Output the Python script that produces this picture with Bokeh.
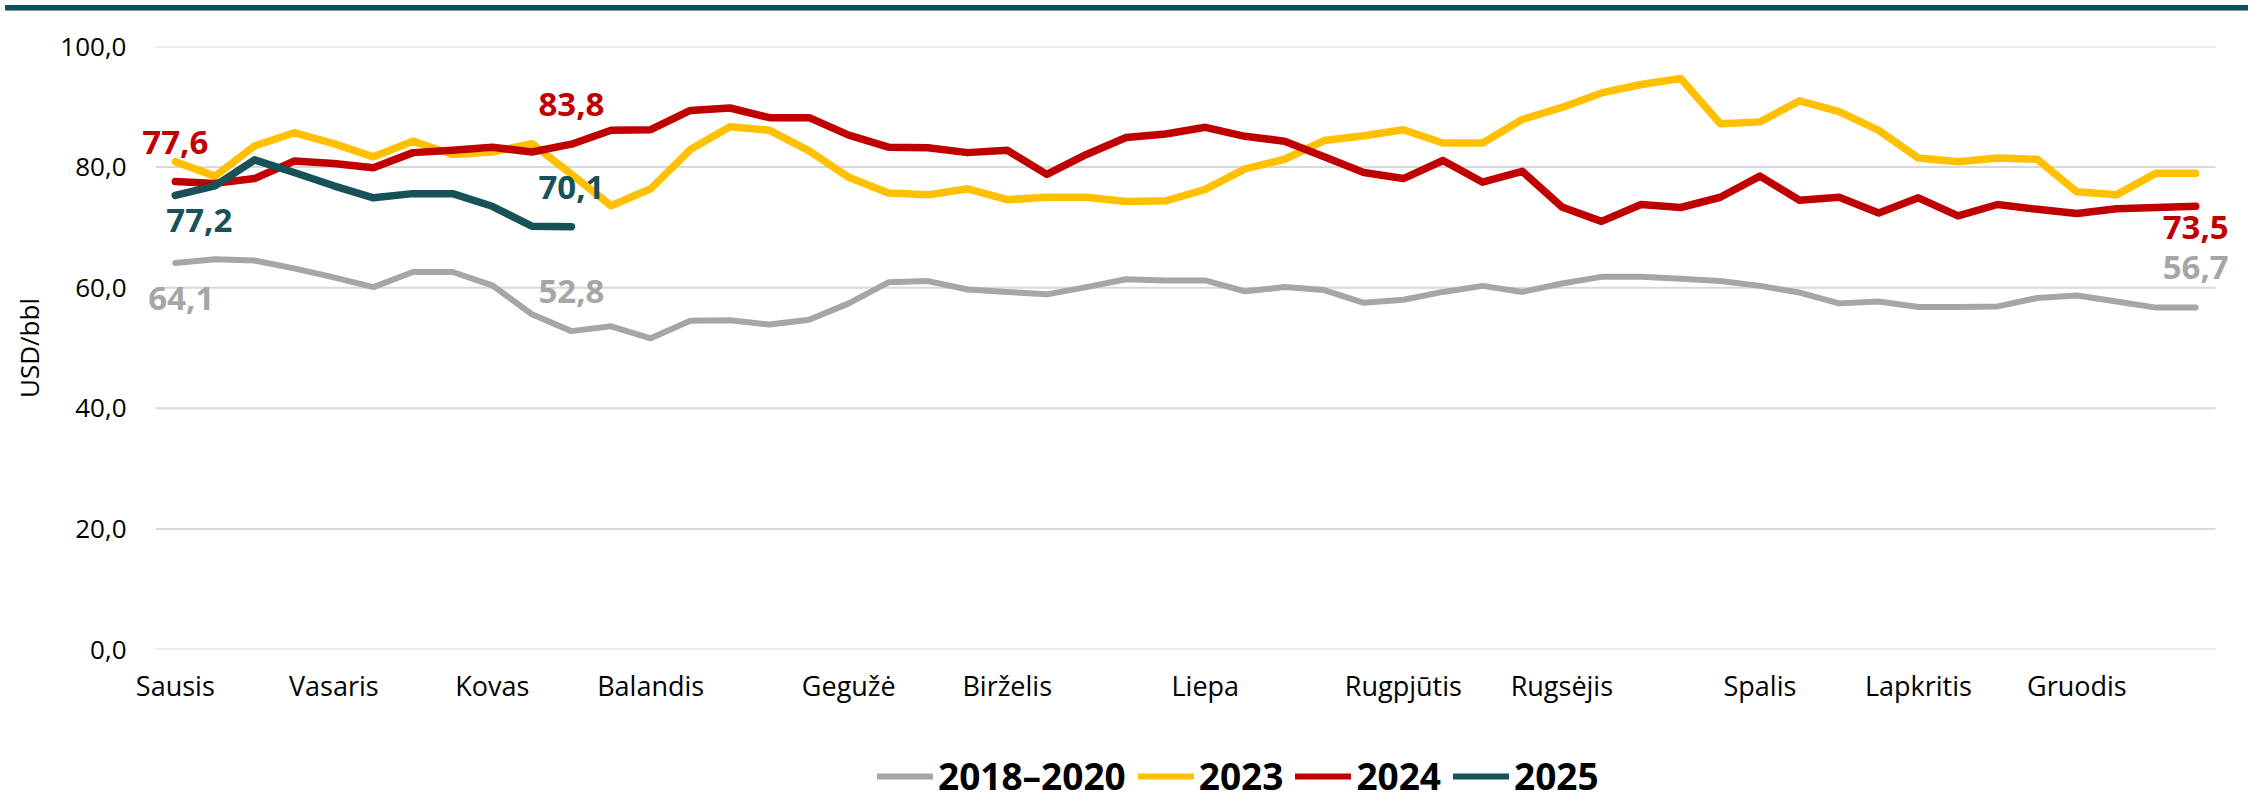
from bokeh.plotting import figure
from bokeh.models import (Range1d, FixedTicker, Legend, LegendItem, Label, Div)
from bokeh.layouts import column
from bokeh.embed import file_html
from bokeh.resources import INLINE

# ---------------- data ----------------
weeks = list(range(52))
month_ticks = [0, 4, 8, 12, 17, 21, 26, 31, 35, 40, 44, 48]
month_labels = ["Sausis", "Vasaris", "Kovas", "Balandis", "Gegužė", "Birželis",
                "Liepa", "Rugpjūtis", "Rugsėjis", "Spalis", "Lapkritis", "Gruodis"]
y_ticks = [0, 20, 40, 60, 80, 100]

s_2018_2020 = [64.1, 64.7, 64.5, 63.2, 61.7, 60.1, 62.6, 62.6, 60.4, 55.6,
               52.8, 53.6, 51.6, 54.5, 54.6, 53.9, 54.7, 57.4, 60.9, 61.1,
               59.7, 59.3, 58.9, 60.1, 61.4, 61.2, 61.2, 59.4, 60.1, 59.6,
               57.5, 58.0, 59.3, 60.3, 59.3, 60.7, 61.8, 61.8, 61.5, 61.1,
               60.3, 59.2, 57.4, 57.7, 56.8, 56.8, 56.9, 58.3, 58.7, 57.7,
               56.7, 56.7]
s_2023 = [80.9, 78.5, 83.5, 85.7, 83.9, 81.7, 84.3, 82.1, 82.5, 83.9,
          78.8, 73.6, 76.4, 82.9, 86.7, 86.1, 82.7, 78.3, 75.7, 75.4,
          76.4, 74.6, 75.0, 75.0, 74.3, 74.4, 76.3, 79.7, 81.3, 84.4,
          85.2, 86.2, 84.0, 84.0, 87.9, 89.9, 92.3, 93.7, 94.7, 87.2,
          87.5, 91.0, 89.2, 86.1, 81.5, 80.9, 81.5, 81.3, 75.9, 75.4,
          79.0, 79.0]
s_2024 = [77.6, 77.3, 78.1, 81.0, 80.6, 79.9, 82.4, 82.8, 83.3, 82.5,
          83.8, 86.1, 86.2, 89.4, 89.8, 88.2, 88.2, 85.3, 83.3, 83.2,
          82.4, 82.8, 78.8, 82.1, 84.9, 85.5, 86.6, 85.1, 84.3, 81.7,
          79.1, 78.1, 81.1, 77.5, 79.3, 73.4, 71.0, 73.8, 73.3, 75.0,
          78.5, 74.5, 75.0, 72.4, 74.9, 71.9, 73.8, 73.0, 72.3, 73.1,
          73.3, 73.5]
s_2025 = [75.3, 76.9, 81.2, 79.1, 76.9, 74.9, 75.6, 75.6, 73.5, 70.2, 70.1]

series_names = ["2018–2020", "2023", "2024", "2025"]
series_values = [s_2018_2020, s_2023, s_2024, s_2025]

# data labels: which series, which week, text
label_series = ["2024", "2025", "2018–2020", "2024", "2025", "2018–2020", "2024", "2018–2020"]
label_week = [0, 0, 0, 10, 10, 10, 51, 51]
label_text = ["77,6", "77,2", "64,1", "83,8", "70,1", "52,8", "73,5", "56,7"]

# ---------------- styles ----------------
colors = {"2018–2020": "#a6a6a6", "2023": "#ffc000", "2024": "#c00000", "2025": "#17525a"}
widths = {"2018–2020": 6, "2023": 7.5, "2024": 7.5, "2025": 7.5}
label_offsets = [(0, 39), (24, -25), (6, -36), (0, 40), (0, 39), (0, 40), (0, -21), (0, 40)]
FONT = "Open Sans"

W = 2243
BAR_H = 6
H_MAIN = 706
H_LEG = 790 - BAR_H - H_MAIN

# category band: half a week on each side of the first / last week
x_lo, x_hi = weeks[0] - 0.5, weeks[-1] + 0.5
px_per_week = 2060 / (x_hi - x_lo)
pad_left_px, pad_right_px = 23, 22   # extra room inside frame for edge data labels

p = figure(width=W, height=H_MAIN, output_backend="svg", toolbar_location=None,
           x_range=Range1d(x_lo - pad_left_px / px_per_week, x_hi + pad_right_px / px_per_week),
           y_range=Range1d(0, 100),
           min_border_left=132, min_border_right=6,
           min_border_top=30, min_border_bottom=73)
p.outline_line_color = None
p.background_fill_color = "white"
p.border_fill_color = "white"

# axes
p.xaxis.ticker = FixedTicker(ticks=month_ticks)
p.xaxis.major_label_overrides = {t: l for t, l in zip(month_ticks, month_labels)}
p.yaxis.ticker = FixedTicker(ticks=y_ticks)
p.yaxis.major_label_overrides = {t: f"{t:.1f}".replace(".", ",") for t in y_ticks}
for ax in (p.xaxis, p.yaxis):
    ax.axis_line_color = None
    ax.major_tick_line_color = None
    ax.minor_tick_line_color = None
    ax.major_label_text_font = FONT
    ax.major_label_text_color = "#000000"
p.xaxis.major_label_text_font_size = "27px"
p.yaxis.major_label_text_font_size = "26px"
p.xaxis.major_label_standoff = 11
p.yaxis.major_label_standoff = 0
p.yaxis.axis_label = "USD/bbl"
p.yaxis.axis_label_text_font = FONT
p.yaxis.axis_label_text_font_size = "26px"
p.yaxis.axis_label_text_font_style = "normal"
p.yaxis.axis_label_text_color = "#000000"
p.yaxis.axis_label_standoff = 10

p.xgrid.grid_line_color = None
p.ygrid.grid_line_color = None
# horizontal gridlines spanning the category band only
p.segment(x0=[x_lo] * len(y_ticks), x1=[x_hi] * len(y_ticks), y0=y_ticks, y1=y_ticks,
          line_color="#d9d9d9", line_width=2)

# lines
for name, vals in zip(series_names, series_values):
    p.line(weeks[:len(vals)], vals, line_color=colors[name], line_width=widths[name],
           line_join="round", line_cap="round")

# data labels
for ser, wk, txt, (dx, dy) in zip(label_series, label_week, label_text, label_offsets):
    vals = series_values[series_names.index(ser)]
    p.add_layout(Label(x=weeks[wk], y=vals[wk], text=txt, x_offset=dx, y_offset=dy,
                       text_align="center", text_baseline="middle",
                       text_font=FONT, text_font_size="33px", text_font_style="bold",
                       text_color=colors[ser]))

# legend strip (separate small figure under the chart, no axes)
pl = figure(width=W, height=H_LEG, output_backend="svg", toolbar_location=None,
            x_axis_type=None, y_axis_type=None,
            x_range=Range1d(0, 1), y_range=Range1d(0, 1),
            min_border_left=0, min_border_right=0, min_border_top=0, min_border_bottom=0)
pl.grid.visible = False
pl.outline_line_color = None
pl.border_fill_color = "white"
leg_renderers = []
for name, vals in zip(series_names, series_values):
    # same series, drawn outside this strip's view: only its legend swatch shows
    leg_renderers.append(pl.line(weeks[:len(vals)], vals, line_color=colors[name],
                                 line_width=6, line_cap="round"))
legend = Legend(items=[LegendItem(label=n, renderers=[r]) for n, r in zip(series_names, leg_renderers)],
                orientation="horizontal", location=(745, -1),
                glyph_width=56, glyph_height=20, label_standoff=5, spacing=12,
                padding=0, margin=0, border_line_color=None, background_fill_alpha=0,
                label_text_font=FONT, label_text_font_size="37px",
                label_text_font_style="bold", label_text_color="#000000")
pl.add_layout(legend)

bar = Div(text="", width=W, height=BAR_H,
          styles={"background-color": "#0e4f59", "border-bottom": "1px solid #8c9c9c",
                  "box-sizing": "border-box"})

layout = column(bar, p, pl, spacing=0)
open("out.html", "w").write(file_html(layout, INLINE))
